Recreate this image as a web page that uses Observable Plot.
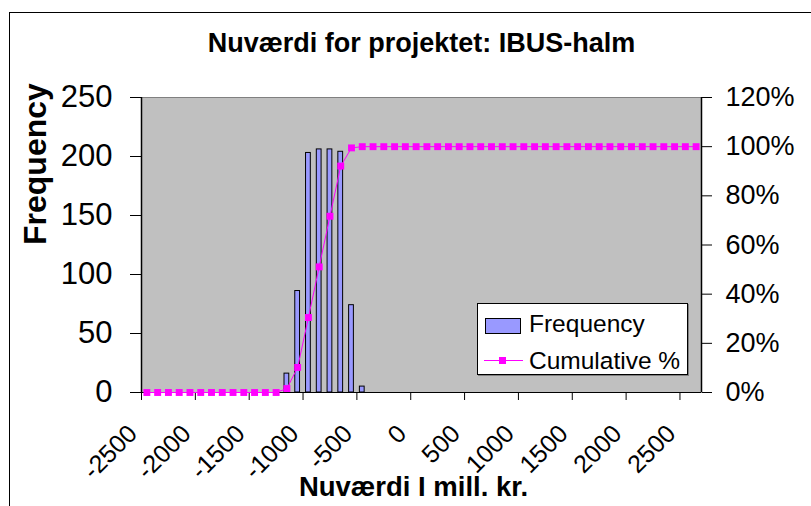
<!DOCTYPE html>
<html>
<head>
<meta charset="utf-8">
<script src="https://cdn.jsdelivr.net/npm/d3@7"></script>
<script src="https://cdn.jsdelivr.net/npm/@observablehq/plot@0.6"></script>
<style>
  html, body { margin: 0; padding: 0; background: #fff; }
  body { width: 811px; height: 506px; overflow: hidden; position: relative; font-family: "Liberation Sans", Arial, sans-serif; }
  #chartBorder { position: absolute; left: 9px; top: 12px; width: 1000px; height: 1000px; border-left: 1.5px solid #000; border-top: 1.5px solid #000; }
  .layer { position: absolute; left: 0; top: 0; }
  #legend { position: absolute; left: 477px; top: 303px; width: 209px; height: 70px; background: #fff; border: 1px solid #000; box-shadow: 1px 1px 0 #808080; }
  #legend .row { position: absolute; left: 0; height: 34px; width: 100%; }
  #legend .lab { position: absolute; left: 51px; font-size: 24.5px; color: #000; line-height: 1; }
</style>
</head>
<body>
<div id="chartBorder"></div>
<div id="chart"></div>
<script>
// ---- data ----
const bins = [-2500,-2400,-2300,-2200,-2100,-2000,-1900,-1800,-1700,-1600,-1500,-1400,-1300,-1200,-1100,-1000,-900,-800,-700,-600,-500,-400,-300,-200,-100,0,100,200,300,400,500,600,700,800,900,1000,1100,1200,1300,1400,1500,1600,1700,1800,1900,2000,2100,2200,2300,2400,2500,2600];
const frequency = [0,0,0,0,0,0,0,0,0,0,0,0,0,16,86,203,206,206,204,74,5,0,0,0,0,0,0,0,0,0,0,0,0,0,0,0,0,0,0,0,0,0,0,0,0,0,0,0,0,0,0,0];
const cumulative = [0,0,0,0,0,0,0,0,0,0,0,0,0,0.016,0.102,0.305,0.511,0.717,0.921,0.995,1,1,1,1,1,1,1,1,1,1,1,1,1,1,1,1,1,1,1,1,1,1,1,1,1,1,1,1,1,1,1,1];
const xTickLabels = [-2500,-2000,-1500,-1000,-500,0,500,1000,1500,2000,2500];
const yTicks = [0,50,100,150,200,250];
const pctTicks = [0,0.2,0.4,0.6,0.8,1.0,1.2];
const titleText = "Nuværdi for projektet: IBUS-halm";
const xTitle = "Nuværdi I mill. kr.";
const yTitle = "Frequency";
const seriesNames = ["Frequency", "Cumulative %"];

const table = bins.map((b, i) => ({bin: b, freq: frequency[i], cum: cumulative[i]}));
const xDomain = [bins[0] - 50, bins[bins.length - 1] + 50];
const boundaryTicks = xTickLabels.map(v => v - 50);

const W = 811, H = 506;
const M = {marginLeft: 141, marginRight: 110, marginTop: 97, marginBottom: 114};
const font = "'Liberation Sans', Arial, sans-serif";

const p1 = Plot.plot({
  width: W, height: H, ...M,
  style: {background: "transparent", fontFamily: font, color: "#000", overflow: "visible"},
  x: {domain: xDomain, axis: null},
  y: {domain: [0, 250], axis: null},
  marks: [
    Plot.frame({fill: "#c0c0c0", stroke: "#808080"}),
    Plot.rectY(table.filter(d => d.freq > 0), {x1: d => d.bin - 50, x2: d => d.bin + 50, y: "freq", insetLeft: 3, insetRight: 3, fill: "#9999ff", stroke: "#000", strokeWidth: 1}),
    Plot.ruleY([0], {stroke: "#000"}),
    Plot.ruleX([xDomain[0]], {stroke: "#000", strokeWidth: 1.5}),
    Plot.axisY({ticks: yTicks, tickSize: 11, tickPadding: 18, fontSize: 31, label: null, tickFormat: d => String(d)}),
    Plot.axisX({ticks: boundaryTicks, tickSize: 8, label: null, tickFormat: () => ""}),
    Plot.axisX({ticks: xTickLabels, tickSize: 0, tickPadding: 37, tickRotate: -45, dx: -14, fontSize: 25, label: null, tickFormat: d => String(d)}),
    Plot.text([yTitle], {frameAnchor: "left", rotate: -90, dx: -106, fontSize: 32, fontWeight: "bold"}),
    Plot.text([titleText], {frameAnchor: "top", lineAnchor: "bottom", dy: -46, dx: 0, fontSize: 27, fontWeight: "bold"}),
    Plot.text([xTitle], {frameAnchor: "bottom", lineAnchor: "bottom", dy: 103, dx: -8, fontSize: 27.5, fontWeight: "bold"})
  ]
});
p1.classList.add("layer");

const p2 = Plot.plot({
  width: W, height: H, ...M,
  style: {background: "transparent", fontFamily: font, color: "#000", overflow: "visible"},
  x: {domain: xDomain, axis: null},
  y: {domain: [0, 1.2], axis: null},
  marks: [
    Plot.line(table, {x: "bin", y: "cum", stroke: "#ff00ff", strokeWidth: 1}),
    Plot.dot(table, {x: "bin", y: "cum", symbol: "square", r: 3.9, fill: "#ff00ff", stroke: "none"}),
    Plot.ruleX([xDomain[1]], {stroke: "#000", strokeWidth: 1.5}),
    Plot.axisY({anchor: "right", ticks: pctTicks, tickSize: 10, tickPadding: 14, fontSize: 27, label: null, tickFormat: d => Math.round(d * 100) + "%"})
  ]
});
p2.classList.add("layer");

const chart = document.getElementById("chart");
chart.appendChild(p1);
chart.appendChild(p2);

// legend
const legend = document.createElement("div");
legend.id = "legend";
legend.innerHTML = `
  <div class="row" style="top:2px">
    <svg width="50" height="34" style="position:absolute;left:0;top:0"><rect x="7.5" y="12.5" width="35" height="15" fill="#9999ff" stroke="#000"/></svg>
    <span class="lab" style="top:6px">${seriesNames[0]}</span>
  </div>
  <div class="row" style="top:36px">
    <svg width="50" height="34" style="position:absolute;left:0;top:0"><line x1="6" x2="45" y1="20.5" y2="20.5" stroke="#ff00ff"/><rect x="21" y="17" width="7" height="7" fill="#ff00ff"/></svg>
    <span class="lab" style="top:9px">${seriesNames[1]}</span>
  </div>`;
document.body.appendChild(legend);
</script>
</body>
</html>
